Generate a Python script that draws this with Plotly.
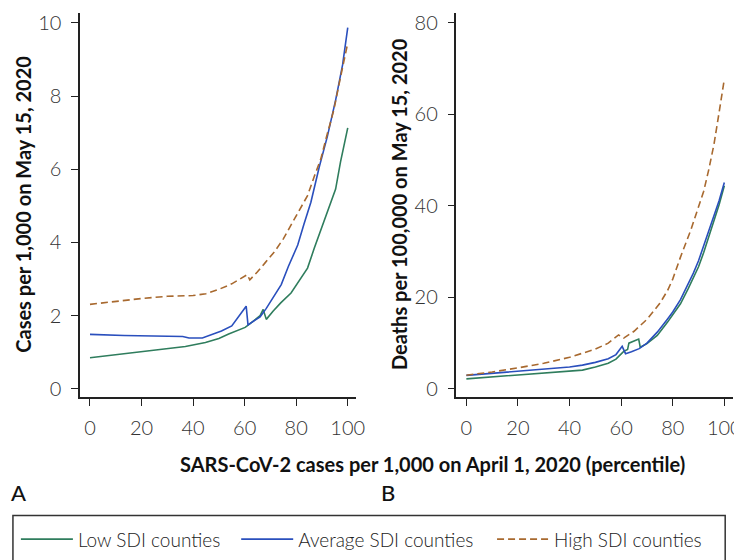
import plotly.graph_objects as go

W, H = 742, 560

# ---------------- data ----------------
# Panel A: cases per 1,000 on May 15, 2020
a_low_x = [0, 10, 20, 29.5, 37, 44.8, 50, 53.8, 57, 60.2, 62, 64, 66, 67.2, 68.4, 71, 74, 78, 81, 84.4, 87, 90.8, 93, 95.3, 97.2, 98.5, 100]
a_low_y = [0.85, 0.93, 1.01, 1.09, 1.16, 1.27, 1.38, 1.5, 1.58, 1.68, 1.78, 1.9, 2.0, 2.17, 1.9, 2.12, 2.35, 2.62, 2.95, 3.3, 3.84, 4.6, 5.0, 5.46, 6.2, 6.6, 7.13]

a_avg_x = [0, 12.9, 13.2, 36, 38.4, 43.6, 47, 51, 55, 58, 60.6, 61.3, 64, 66, 68.4, 71, 74.2, 77, 80.6, 83, 85.7, 88.9, 92.1, 95.3, 98, 100]
a_avg_y = [1.49, 1.48, 1.46, 1.43, 1.39, 1.39, 1.47, 1.58, 1.72, 2.0, 2.26, 1.75, 1.88, 1.97, 2.2, 2.5, 2.85, 3.35, 3.93, 4.5, 5.1, 6.05, 6.9, 7.89, 8.85, 9.87]

a_high_x = [0, 10, 20, 30, 40, 45, 50, 55, 58, 60, 61, 62, 65, 68, 71.6, 75, 78, 81, 84.4, 87, 89.5, 92, 94.6, 97, 100]
a_high_y = [2.31, 2.4, 2.47, 2.53, 2.55, 2.6, 2.72, 2.87, 3.0, 3.1, 3.12, 2.98, 3.2, 3.45, 3.75, 4.1, 4.47, 4.85, 5.28, 5.8, 6.27, 6.95, 7.62, 8.45, 9.45]

# Panel B: deaths per 100,000 on May 15, 2020
b_low_x = [0, 10, 20, 30, 40, 45, 50, 55, 58, 61, 62.5, 63, 66.8, 67.4, 70, 74, 78, 80, 83, 86, 88, 90, 92, 94, 96, 98, 100]
b_low_y = [2.2, 2.6, 3.0, 3.4, 3.75, 4.1, 4.8, 5.6, 6.5, 8.2, 8.6, 10.0, 10.9, 9.1, 9.9, 11.7, 14.6, 16.2, 18.6, 21.9, 24.3, 26.7, 29.8, 33.3, 36.7, 40.3, 44.4]

b_avg_x = [0, 10, 20, 30, 40, 45, 50, 55, 58, 60.4, 61.7, 64, 67, 70, 74, 78, 80, 83, 86, 88, 90, 92, 94, 96, 98, 100]
b_avg_y = [2.95, 3.4, 3.8, 4.3, 4.8, 5.2, 5.8, 6.6, 7.5, 9.3, 7.7, 8.1, 8.8, 10.0, 12.4, 15.3, 16.8, 19.5, 22.8, 25.3, 28.0, 31.3, 34.3, 37.6, 41.2, 45.1]

b_high_x = [0, 10, 20, 30, 40, 50, 55, 59, 61, 65, 70, 75, 78, 80, 83, 85, 87, 90, 92, 94, 96, 98, 100]
b_high_y = [3.0, 3.7, 4.6, 5.6, 6.9, 8.7, 10.0, 11.8, 11.1, 12.6, 15.2, 18.7, 21.5, 24.0, 28.8, 31.8, 34.7, 39.8, 43.2, 48.0, 53.5, 60.5, 67.7]

x_ticks = [0, 20, 40, 60, 80, 100]
a_y_ticks = [0, 2, 4, 6, 8, 10]
b_y_ticks = [0, 20, 40, 60, 80]

series_names = ["Low SDI counties", "Average SDI counties", "High SDI counties"]

# ---------------- styles ----------------
GREEN = "#2f7d5d"
BLUE = "#2a4fbd"
BROWN = "#a8692f"
AXC = "#222222"
FONT = "Lato"


def fx(px):
    return px / W


def fy(py):
    return 1 - py / H


fig = go.Figure()

legend_ids = ["legend", "legend2", "legend3"]
panels = [
    ("x", "y", (a_low_x, a_low_y), (a_avg_x, a_avg_y), (a_high_x, a_high_y), True),
    ("x2", "y2", (b_low_x, b_low_y), (b_avg_x, b_avg_y), (b_high_x, b_high_y), False),
]
for xa, ya, low, avg, high, show in panels:
    for i, (data, color, dash) in enumerate([(low, GREEN, "solid"), (avg, BLUE, "solid"),
                                             (high, BROWN, "7px,4px")]):
        fig.add_trace(go.Scatter(x=data[0], y=data[1], mode="lines", name=series_names[i],
                                 line=dict(color=color, width=1.6, dash=dash),
                                 xaxis=xa, yaxis=ya, showlegend=show, legend=legend_ids[i]))

tickfont = dict(family=FONT, size=20, color="#333333", weight=300)
axis_common = dict(showgrid=False, zeroline=False, showline=True, linecolor=AXC, linewidth=1.5,
                   ticks="outside", ticklen=7, tickwidth=1.3, tickcolor=AXC, tickfont=tickfont,
                   mirror=False, fixedrange=True, ticklabeloverflow="allow")

legend_font = dict(family=FONT, size=19, color="#222222", weight=300)


def legend_at(px):
    return dict(orientation="h", x=fx(px), y=fy(534), xanchor="left", yanchor="middle",
                font=legend_font, bgcolor="rgba(0,0,0,0)", borderwidth=0, itemwidth=52,
                itemclick=False, itemdoubleclick=False)


# pixel layout: plot rows from y=2 to y=390 px
y_dom = [fy(390), fy(2)]
fig.update_layout(
    width=W, height=H,
    margin=dict(l=0, r=0, t=0, b=0),
    paper_bgcolor="white", plot_bgcolor="white",
    xaxis=dict(domain=[fx(73), fx(352)], range=[-3.83, 103.1], tickvals=x_ticks,
               ticklabelstandoff=5, anchor="y", **axis_common),
    yaxis=dict(domain=y_dom, range=[-0.216, 10.27], tickvals=a_y_ticks,
               ticklabelstandoff=6, anchor="x", **axis_common),
    xaxis2=dict(domain=[fx(454), fx(734)], range=[-3.83, 103.4], tickvals=x_ticks,
                ticklabelstandoff=5, anchor="y2", **axis_common),
    yaxis2=dict(domain=y_dom, range=[-1.73, 82.16], tickvals=b_y_ticks,
                ticklabelstandoff=6, anchor="x2", **axis_common),
    showlegend=True,
    legend=legend_at(8),
    legend2=legend_at(231),
    legend3=legend_at(490),
)

# legend frame
fig.add_shape(type="rect", xref="paper", yref="paper",
              x0=fx(5), x1=fx(726), y0=fy(558), y1=fy(510),
              line=dict(color="#333333", width=1.5), fillcolor="rgba(0,0,0,0)")

title_font = dict(family=FONT, size=20, color="#111111", weight=700)
fig.add_annotation(text="Cases per 1,000 on May 15, 2020", xref="paper", yref="paper",
                   x=fx(15), y=fy(195), textangle=-90, showarrow=False, font=title_font,
                   xanchor="center", yanchor="middle")
fig.add_annotation(text="Deaths per 100,000 on May 15, 2020", xref="paper", yref="paper",
                   x=fx(396), y=fy(195), textangle=-90, showarrow=False, font=title_font,
                   xanchor="center", yanchor="middle")
fig.add_annotation(text="SARS-CoV-2 cases per 1,000 on April 1, 2020 (percentile)", xref="paper", yref="paper",
                   x=fx(430), y=fy(458), showarrow=False, font=title_font,
                   xanchor="center", yanchor="middle")

panel_font = dict(family=FONT, size=22, color="#111111", weight=500)
fig.add_annotation(text="A", xref="paper", yref="paper", x=fx(1), y=fy(487), showarrow=False,
                   font=panel_font, xanchor="left", yanchor="middle")
fig.add_annotation(text="B", xref="paper", yref="paper", x=fx(376), y=fy(487), showarrow=False,
                   font=panel_font, xanchor="left", yanchor="middle")

fig.write_html("out.html")
